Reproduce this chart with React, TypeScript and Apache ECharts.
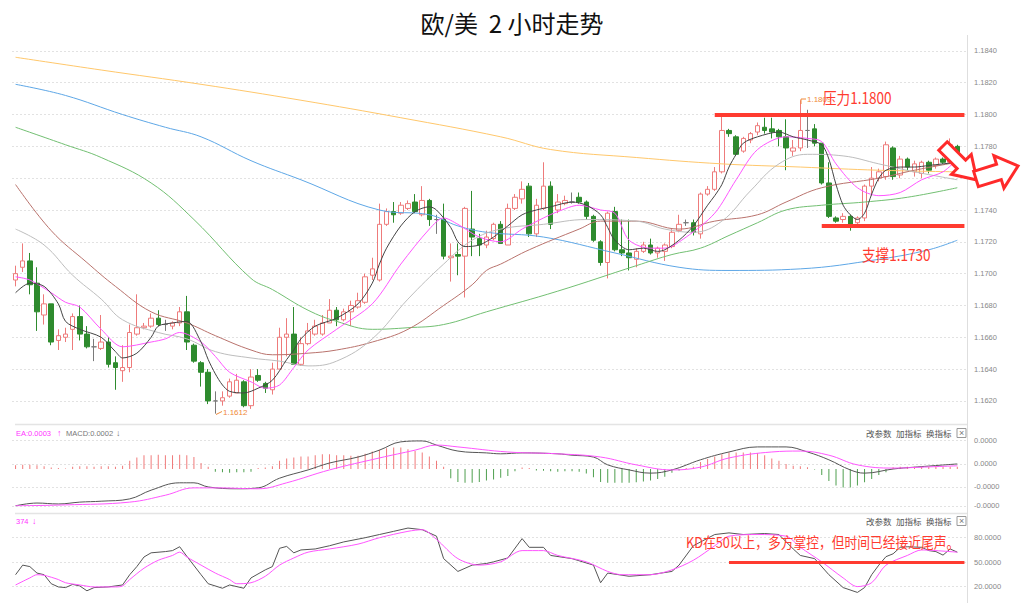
import React, { useEffect, useRef } from "react";
import * as echarts from "echarts";

// ---------- DATA ----------
const categories: string[] = Array.from({ length: 134 }, (_, i) => String(i));

// [open, close, low, high]
const candles: number[][] = [
  [1.1696, 1.17, 1.1692, 1.1705], [1.1704, 1.1708, 1.1701, 1.1719], [1.1708, 1.1693, 1.1687, 1.1713],
  [1.1694, 1.1676, 1.1664, 1.1704], [1.1674, 1.1681, 1.1668, 1.1687], [1.1681, 1.1657, 1.1655, 1.1681],
  [1.1658, 1.1661, 1.1652, 1.1665], [1.166, 1.1662, 1.1657, 1.1666], [1.1665, 1.1673, 1.1652, 1.1675],
  [1.1673, 1.1662, 1.1658, 1.168], [1.1662, 1.1654, 1.1653, 1.1667], [1.1654, 1.1654, 1.1645, 1.1659],
  [1.1653, 1.1657, 1.1652, 1.1674], [1.1657, 1.1643, 1.1641, 1.166], [1.1644, 1.1641, 1.1627, 1.1648],
  [1.1639, 1.1641, 1.1632, 1.1655], [1.1641, 1.1663, 1.1638, 1.1668], [1.1662, 1.1666, 1.1661, 1.1687],
  [1.1666, 1.1667, 1.1665, 1.1669], [1.1667, 1.1672, 1.1666, 1.1675], [1.1672, 1.1668, 1.1667, 1.1677],
  [1.1668, 1.1668, 1.1664, 1.1671], [1.1667, 1.1669, 1.1665, 1.167], [1.1669, 1.1676, 1.1667, 1.1679],
  [1.1676, 1.1657, 1.1652, 1.1686], [1.1655, 1.1645, 1.1644, 1.1656], [1.1644, 1.1638, 1.1629, 1.1645],
  [1.1638, 1.162, 1.1618, 1.164], [1.162, 1.162, 1.1612, 1.1626], [1.162, 1.1622, 1.1617, 1.1626],
  [1.1623, 1.1632, 1.1622, 1.1634], [1.1625, 1.1633, 1.1625, 1.1637], [1.1632, 1.1617, 1.1616, 1.1633],
  [1.1617, 1.1635, 1.1615, 1.164], [1.1636, 1.1633, 1.1632, 1.164], [1.1631, 1.1628, 1.1625, 1.1632],
  [1.1627, 1.164, 1.1624, 1.1644], [1.164, 1.166, 1.164, 1.1666], [1.166, 1.1662, 1.1648, 1.1672],
  [1.1662, 1.1643, 1.1643, 1.1679], [1.1643, 1.1656, 1.1642, 1.166], [1.1656, 1.1664, 1.1655, 1.1669],
  [1.1662, 1.1667, 1.1661, 1.1671], [1.1662, 1.1669, 1.1661, 1.1674], [1.1669, 1.1677, 1.1669, 1.1684],
  [1.1677, 1.1671, 1.1667, 1.1679], [1.1671, 1.1676, 1.167, 1.1678], [1.1676, 1.168, 1.1667, 1.1683],
  [1.1679, 1.1683, 1.1678, 1.1688], [1.1682, 1.1698, 1.1681, 1.17], [1.1699, 1.1703, 1.1696, 1.171],
  [1.1696, 1.1731, 1.1695, 1.1744], [1.1731, 1.1739, 1.173, 1.1741], [1.1739, 1.1737, 1.1732, 1.1745],
  [1.1738, 1.1743, 1.1737, 1.1745], [1.1741, 1.1744, 1.174, 1.1746], [1.1745, 1.1739, 1.1738, 1.175],
  [1.1737, 1.1746, 1.1736, 1.1755], [1.1746, 1.1734, 1.173, 1.1747], [1.1734, 1.1734, 1.1725, 1.1737],
  [1.1734, 1.1711, 1.1709, 1.1744], [1.171, 1.1711, 1.1695, 1.1719], [1.1712, 1.1711, 1.1699, 1.1719],
  [1.1711, 1.1741, 1.1685, 1.1742], [1.1728, 1.1723, 1.1711, 1.1752], [1.1722, 1.1718, 1.1711, 1.1725],
  [1.1718, 1.1723, 1.1716, 1.1727], [1.1722, 1.1731, 1.1721, 1.1732], [1.1731, 1.1719, 1.1719, 1.1733],
  [1.1718, 1.1741, 1.1718, 1.1744], [1.1741, 1.1748, 1.174, 1.175], [1.1747, 1.1753, 1.1744, 1.1758],
  [1.1755, 1.1725, 1.1723, 1.1757], [1.1725, 1.1743, 1.1723, 1.1747], [1.1741, 1.1755, 1.174, 1.177],
  [1.1755, 1.1731, 1.1728, 1.1758], [1.174, 1.1745, 1.1738, 1.175], [1.1744, 1.1746, 1.1743, 1.1749],
  [1.1745, 1.1745, 1.1744, 1.1751], [1.1748, 1.1745, 1.1744, 1.1751], [1.1745, 1.1736, 1.1734, 1.1746],
  [1.1736, 1.1721, 1.172, 1.1737], [1.172, 1.1707, 1.1705, 1.1721], [1.1707, 1.1738, 1.1697, 1.1739],
  [1.1739, 1.1715, 1.1714, 1.1742], [1.1715, 1.1713, 1.1711, 1.1734], [1.1713, 1.171, 1.1702, 1.1734],
  [1.1709, 1.1714, 1.1704, 1.1716], [1.1714, 1.1718, 1.1713, 1.172], [1.1718, 1.1713, 1.1712, 1.1722],
  [1.1713, 1.1716, 1.171, 1.1717], [1.1714, 1.1718, 1.1708, 1.1719], [1.1717, 1.1726, 1.1716, 1.1728],
  [1.1727, 1.1731, 1.1726, 1.1737], [1.1732, 1.1732, 1.173, 1.1734], [1.1732, 1.1726, 1.1724, 1.1734],
  [1.1725, 1.175, 1.1722, 1.1751], [1.175, 1.1753, 1.1749, 1.1755], [1.1753, 1.1764, 1.1752, 1.1767],
  [1.1764, 1.179, 1.1763, 1.18], [1.179, 1.1788, 1.1786, 1.1791], [1.1786, 1.1775, 1.1774, 1.1787],
  [1.1777, 1.1785, 1.1776, 1.1786], [1.1784, 1.1788, 1.1782, 1.1789], [1.1789, 1.1793, 1.1787, 1.1795],
  [1.1792, 1.179, 1.1788, 1.1798], [1.1791, 1.1789, 1.1785, 1.1798], [1.179, 1.1786, 1.178, 1.1791],
  [1.1786, 1.1779, 1.1765, 1.1797], [1.1777, 1.1779, 1.1774, 1.1784], [1.1779, 1.179, 1.1777, 1.1809],
  [1.179, 1.179, 1.1779, 1.1803], [1.1791, 1.1782, 1.178, 1.1794], [1.1782, 1.1757, 1.1756, 1.1782],
  [1.1757, 1.1736, 1.1735, 1.177], [1.1735, 1.1733, 1.1732, 1.1736], [1.1734, 1.1736, 1.1732, 1.1738],
  [1.1736, 1.1731, 1.1727, 1.1737], [1.1732, 1.1735, 1.1729, 1.1736], [1.1735, 1.1755, 1.1733, 1.1756],
  [1.1755, 1.176, 1.1749, 1.1767], [1.176, 1.1764, 1.1758, 1.1766], [1.1761, 1.1781, 1.1759, 1.1783],
  [1.1779, 1.1761, 1.1759, 1.178], [1.1762, 1.1772, 1.176, 1.1774], [1.1772, 1.1767, 1.1765, 1.1773],
  [1.1764, 1.1769, 1.1761, 1.1771], [1.1763, 1.177, 1.176, 1.1771], [1.177, 1.1765, 1.1763, 1.1771],
  [1.1768, 1.1772, 1.1766, 1.1773], [1.1772, 1.177, 1.1769, 1.1773], [1.177, 1.1781, 1.1769, 1.1785],
  [1.178, 1.177, 1.1769, 1.1781],
];

// moving averages: [candle index, price]
const ma5: number[][] = [
  [0, 1.1688], [2, 1.1694], [4, 1.1692], [6, 1.1681], [7, 1.167], [9, 1.1665], [12, 1.166], [14, 1.1651],
  [15, 1.1647], [17, 1.165], [19, 1.166], [20, 1.1667], [22, 1.1669], [24, 1.167], [26, 1.1657], [27, 1.1646],
  [28, 1.1637], [29, 1.163], [30, 1.1626], [32, 1.1625], [34, 1.1628], [36, 1.1633], [38, 1.1646], [39, 1.1652],
  [40, 1.1659], [42, 1.1667], [45, 1.1672], [48, 1.1681], [50, 1.1694], [51, 1.1706], [52, 1.1716], [54, 1.173],
  [56, 1.1739], [58, 1.1742], [59, 1.174], [61, 1.1729], [62, 1.172], [63, 1.1717], [65, 1.1718], [67, 1.1723],
  [69, 1.173], [71, 1.1737], [73, 1.174], [75, 1.1742], [78, 1.1745], [80, 1.1743], [82, 1.1737], [83, 1.1729],
  [84, 1.1721], [86, 1.1715], [88, 1.1716], [90, 1.1714], [91, 1.1715], [93, 1.1721], [95, 1.173], [97, 1.1743],
  [98, 1.1749], [99, 1.1756], [100, 1.1767], [101, 1.1775], [102, 1.1782], [104, 1.1786], [107, 1.1789],
  [109, 1.1786], [111, 1.1784], [113, 1.1781], [114, 1.1772], [115, 1.1756], [116, 1.1743], [117, 1.1737],
  [118, 1.1734], [119, 1.1738], [120, 1.175], [121, 1.176], [122, 1.1765], [124, 1.1767], [126, 1.1767],
  [128, 1.1768], [130, 1.1769], [132, 1.177],
];
const ma10: number[][] = [
  [0, 1.1698], [2, 1.1696], [5, 1.1688], [7, 1.1682], [9, 1.1679], [12, 1.1665], [15, 1.1654], [19, 1.1657],
  [21, 1.1659], [23, 1.1663], [26, 1.1657], [28, 1.1648], [30, 1.1638], [33, 1.1632], [35, 1.1628], [37, 1.163],
  [39, 1.1641], [41, 1.1652], [45, 1.1665], [50, 1.1681], [54, 1.1706], [58, 1.1728], [60, 1.1735], [62, 1.1731],
  [65, 1.1723], [68, 1.172], [71, 1.1728], [74, 1.1735], [76, 1.1739], [79, 1.1743], [82, 1.174], [84, 1.1738],
  [86, 1.1721], [89, 1.1716], [91, 1.1716], [94, 1.1723], [98, 1.1738], [101, 1.1759], [104, 1.1778],
  [108, 1.1786], [111, 1.1785], [113, 1.1783], [115, 1.1769], [118, 1.1754], [121, 1.1749], [124, 1.1751],
  [127, 1.1759], [130, 1.1764], [132, 1.1772],
];
const ma20: number[][] = [
  [0, 1.1728], [4, 1.1718], [8, 1.1699], [12, 1.1684], [15, 1.1671], [20, 1.1663], [24, 1.1659], [28, 1.1651],
  [33, 1.1647], [37, 1.1645], [41, 1.1642], [45, 1.1645], [50, 1.1659], [55, 1.1684], [60, 1.1706], [64, 1.1721],
  [68, 1.1728], [74, 1.1731], [80, 1.1734], [87, 1.1733], [91, 1.1728], [95, 1.1726], [99, 1.1733], [103, 1.1752],
  [107, 1.1769], [111, 1.1775], [116, 1.1774], [121, 1.1769], [126, 1.1764], [132, 1.1759],
];
const ma30: number[][] = [
  [0, 1.1756], [5, 1.1727], [10, 1.1707], [14, 1.1692], [19, 1.1676], [24, 1.1669], [28, 1.1661], [33, 1.1652],
  [36, 1.1649], [41, 1.165], [45, 1.1652], [50, 1.1657], [55, 1.1665], [60, 1.168], [64, 1.1693], [66, 1.1702],
  [68, 1.1706], [72, 1.1715], [79, 1.1728], [82, 1.1733], [87, 1.1733], [93, 1.1728], [98, 1.1733], [104, 1.1737],
  [108, 1.1745], [113, 1.1754], [121, 1.176], [126, 1.1765], [132, 1.177],
];
const ma60: number[][] = [
  [0, 1.1792], [7, 1.1781], [12, 1.1773], [19, 1.1757], [25, 1.1734], [33, 1.1697], [36, 1.169], [41, 1.1677],
  [45, 1.167], [50, 1.1665], [55, 1.1666], [60, 1.1668], [66, 1.1676], [76, 1.1689], [87, 1.1705], [92, 1.1712],
  [96, 1.1716], [100, 1.1724], [104, 1.1732], [108, 1.174], [113, 1.1743], [119, 1.1745], [125, 1.1748],
  [132, 1.1754],
];
const ma120: number[][] = [
  [0, 1.1819], [7, 1.1812], [15, 1.18], [21, 1.1792], [26, 1.1786], [33, 1.1771], [40, 1.1759], [51, 1.174],
  [58, 1.1737], [62, 1.173], [66, 1.1726], [74, 1.1723], [84, 1.1713], [93, 1.1704], [100, 1.1702], [110, 1.1703],
  [121, 1.1709], [128, 1.1715], [132, 1.1721],
];
const ma250: number[][] = [
  [0, 1.1836], [12, 1.1828], [26, 1.1819], [40, 1.1809], [54, 1.1798], [68, 1.1786], [75, 1.1778], [87, 1.1773],
  [99, 1.1769], [110, 1.1767], [121, 1.1765], [132, 1.1764],
];

// MACD (units of 0.0001)
const macdHist: number[] = [
  0.8, 0.9, 0.9, 0.8, 0.6, 0.3, 0.2, 0.1, 0.5, 0.6, 0.6, 0.5, 0.6, 0.6, 0.5, 0.7,
  1.8, 2.5, 3.0, 3.0, 3.1, 3.0, 3.0, 3.1, 3.0, 2.6, 1.3, 0.5,
  -0.6, -0.7, -0.8, -0.7, -0.7, -0.6, 0.2, 0.3, 0.6,
  1.8, 2.3, 2.5, 2.7, 2.7, 3.0, 3.2, 3.2, 3.0, 3.0, 2.9, 2.9, 3.3, 3.8, 4.2, 4.5, 4.7, 4.7, 4.3, 3.9, 3.6, 2.7, 1.8, 0.5,
  -2.0, -2.8, -3.0, -3.0, -2.8, -2.5, -2.3, -1.9, -1.5, -0.5,
  0.3, 0.2, -0.3, -0.4, -0.5, -0.6, -0.5, -0.5, -0.6,
  -1.0, -1.8, -2.8, -3.0, -3.0, -3.0, -3.0, -2.9, -2.7, -2.5, -2.2, -1.7, -0.8, -0.3,
  0.2, 0.5, 1.5, 2.2, 2.7, 3.2, 3.6, 3.6, 3.6, 3.6, 3.5, 3.0, 2.3, 1.8, 1.1, 0.7, 0.6, 0.4, -0.1,
  -1.3, -2.6, -3.6, -4.0, -4.0, -3.6, -2.9, -2.2, -1.3, -0.7,
  0.4, 0.5, 0.5, 0.5, 0.5, 0.5, 0.6, 0.5, 0.5, 0.5,
];
const macdDiff: number[][] = [
  [0, -8.0], [3, -7.4], [6, -7.6], [9, -7.2], [12, -7.0], [16, -6.5], [19, -4.6], [23, -3.0], [25, -3.0],
  [27, -3.9], [31, -4.3], [34, -4.1], [37, -2.0], [41, -0.2], [44, 1.3], [48, 2.6], [51, 4.1], [54, 5.9],
  [57, 6.1], [59, 5.2], [62, 3.9], [66, 3.5], [68, 3.3], [71, 3.5], [76, 3.3], [78, 3.0], [81, 2.6], [83, 0.9],
  [86, -0.2], [89, -0.9], [92, -0.2], [96, 2.0], [100, 3.7], [104, 4.8], [108, 4.8], [111, 3.7], [114, 2.0],
  [117, -0.2], [119, -0.9], [123, 0.0], [126, 0.4], [132, 1.1],
];
const macdDea: number[][] = [
  [0, -8.0], [7, -7.8], [16, -7.2], [21, -5.7], [25, -4.1], [28, -4.1], [34, -4.3], [38, -3.0], [44, -0.2],
  [51, 2.4], [56, 4.1], [59, 5.2], [62, 4.8], [69, 3.7], [76, 3.3], [82, 2.6], [87, 0.9], [92, -0.2], [96, 0.4],
  [100, 2.4], [106, 3.7], [110, 3.9], [114, 3.0], [118, 0.9], [123, 0.2], [127, 0.4], [132, 0.7],
];

// KD
const kLine: number[][] = [
  [0, 34.5], [1, 46.2], [2, 44.4], [3, 36.5], [4, 34.5], [5, 23.5], [6, 19.6], [7, 18.8], [8, 22.7], [9, 20.8],
  [10, 14.9], [11, 18.8], [13, 19.6], [15, 22], [16, 34.5], [17, 44.4], [18, 56.1], [19, 61.2], [21, 62.7],
  [22, 63.9], [23, 68.6], [24, 57], [26, 34.5], [27, 23.5], [29, 18], [30, 22], [32, 18], [33, 30.6], [35, 40.4],
  [36, 44.4], [37, 66.7], [38, 69], [39, 61.2], [40, 64.7], [42, 65.9], [44, 69.8], [46, 74.5], [49, 79.6],
  [51, 83.5], [53, 87.4], [55, 91.4], [57, 89.4], [59, 81.5], [60, 54.1], [62, 38.5], [64, 46.2], [66, 48.2],
  [67, 50.2], [69, 54.9], [71, 78.5], [72, 67.9], [74, 67.9], [75, 58], [78, 54.1], [81, 46.2], [82, 24.7],
  [83, 36.5], [86, 32.6], [89, 34.5], [92, 38.5], [93, 46.2], [95, 69.8], [98, 83.5], [100, 85.5], [102, 83.5],
  [105, 84.7], [107, 83.5], [109, 65.9], [110, 58], [112, 54.1], [114, 34.5], [116, 18.8], [118, 12.9],
  [119, 18.8], [120, 34.5], [121, 46.2], [122, 56.5], [123, 60], [124, 67.9], [125, 68.6], [127, 67.9],
  [128, 63.9], [129, 62.7], [130, 58.4], [131, 65.9], [132, 62],
];
const dLine: number[][] = [
  [0, 22], [2, 30.6], [3, 34.5], [4, 33.8], [6, 28.6], [7, 24.7], [9, 22], [11, 19.6], [14, 19.6], [15, 20.8],
  [16, 28.6], [18, 42.4], [20, 52.1], [22, 58], [23, 62], [24, 56.1], [26, 46.2], [28, 36.5], [30, 28.6],
  [31, 23.5], [33, 24.7], [35, 32.6], [37, 46.2], [39, 54.9], [41, 62], [44, 65.9], [48, 71.8], [51, 79.6],
  [55, 87.4], [57, 89.4], [59, 77.6], [62, 54.1], [65, 46.2], [68, 50.2], [71, 63.9], [74, 63.9], [76, 58],
  [80, 50.2], [83, 38.5], [85, 34.5], [89, 34.5], [92, 40.4], [95, 52.1], [98, 69.8], [100, 81.5], [104, 83.5],
  [108, 81.5], [110, 67.9], [113, 50.2], [116, 30.6], [118, 20], [120, 24.7], [122, 46.2], [125, 58],
  [127, 64.7], [129, 63.9], [132, 62],
];

// tick labels
const priceTicks: number[] = [1.162, 1.164, 1.166, 1.168, 1.17, 1.172, 1.174, 1.176, 1.178, 1.18, 1.182, 1.184];
const macdTicks: number[] = [6.3, 1.09, -3.91, -8.0];
const kdTicks: number[] = [20, 50, 80];

// annotations
const resistance = 1.18;
const support = 1.173;
const kdLevel = 50;

// ---------- STYLE ----------
const CJK = '"Noto Sans CJK SC", "Noto Sans", sans-serif';
const LAB = '"Liberation Sans", Arial, sans-serif';
const RED = "#ff3b30";
const ORANGE = "#f08a3a";

const txt = (text: string, x: number, y: number, fill: string, fontSize: number, extra: any = {}) => ({
  type: "text",
  x,
  y,
  silent: true,
  z: 100,
  ...extra,
  style: {
    text,
    fill,
    fontSize,
    fontFamily: extra.fontFamily || CJK,
    align: extra.align || "left",
    verticalAlign: "middle",
    textAlign: extra.align || "left",
    textVerticalAlign: "middle",
  },
});

const hline = (x1: number, x2: number, y: number, stroke: string, lineWidth = 1) => ({
  type: "line",
  silent: true,
  shape: { x1, y1: y, x2, y2: y },
  style: { stroke, lineWidth },
});

const arrowShape = (body: number, bodyLen: number, head: number, len: number) => [
  [0, -body], [bodyLen, -body], [bodyLen, -head], [len, 0], [bodyLen, head], [bodyLen, body], [0, body],
];

const maLine = (name: string, data: number[][], color: string, smooth: number | boolean = 0.4) => ({
  name,
  type: "line",
  xAxisIndex: 0,
  yAxisIndex: 0,
  data,
  smooth,
  symbol: "none",
  lineStyle: { color, width: 1 },
  silent: true,
  z: 3,
});

function buildOption(): any {
  const headerRight = (y: number) => [
    txt("改参数", 866, y, "#555", 8.5),
    txt("加指标", 896, y, "#555", 8.5),
    txt("换指标", 926, y, "#555", 8.5),
    { type: "rect", silent: true, shape: { x: 957, y: y - 4.5, width: 9, height: 9 }, style: { fill: "#fff", stroke: "#999", lineWidth: 1 } },
    txt("×", 961.5, y, "#777", 9, { align: "center", fontFamily: LAB }),
  ];

  return {
    animation: false,
    backgroundColor: "#ffffff",
    textStyle: { fontFamily: LAB },
    grid: [
      { left: 12, right: 56, top: 35, height: 385 },
      { left: 12, right: 56, top: 440, height: 66 },
      { left: 12, right: 56, top: 521, height: 85 },
    ],
    xAxis: [0, 1, 2].map((g) => ({
      type: "category",
      gridIndex: g,
      data: categories,
      boundaryGap: true,
      show: false,
    })),
    yAxis: [
      {
        type: "value",
        gridIndex: 0,
        position: "right",
        min: 1.1608,
        max: 1.185,
        axisLine: { show: false },
        axisTick: { show: false, customValues: priceTicks },
        axisLabel: { customValues: priceTicks, formatter: (v: number) => v.toFixed(4), color: "#888", fontSize: 7.5, margin: 6, fontFamily: LAB },
        splitLine: { show: true, lineStyle: { color: "#e2e2e2", type: [2, 2] } },
      },
      {
        type: "value",
        gridIndex: 1,
        position: "right",
        min: -8.043,
        max: 6.304,
        axisLine: { show: false },
        axisTick: { show: false, customValues: macdTicks },
        axisLabel: { customValues: macdTicks, formatter: (v: number) => (v >= 0 ? "0.0000" : "-0.0000"), color: "#888", fontSize: 7.5, margin: 6, fontFamily: LAB },
        splitLine: { show: true, lineStyle: { color: "#e2e2e2", type: [2, 2] } },
      },
      {
        type: "value",
        gridIndex: 2,
        position: "right",
        min: 0,
        max: 100,
        axisLine: { show: false },
        axisTick: { show: false, customValues: kdTicks },
        axisLabel: { customValues: kdTicks, formatter: (v: number) => v.toFixed(4), color: "#888", fontSize: 7.5, margin: 6, fontFamily: LAB },
        splitLine: { show: true, lineStyle: { color: "#e2e2e2", type: [2, 2] } },
      },
    ],
    series: [
      {
        name: "K",
        type: "candlestick",
        xAxisIndex: 0,
        yAxisIndex: 0,
        data: candles,
        barWidth: 5,
        silent: true,
        itemStyle: {
          color: "#ffffff",
          color0: "#2e8b2e",
          borderColor: "#ee7b7b",
          borderColor0: "#2e8b2e",
          borderColorDoji: "#7a7a7a",
          borderWidth: 1,
        },
        markLine: {
          silent: true,
          symbol: ["none", "none"],
          label: { show: false },
          lineStyle: { color: RED, width: 4, type: "solid" },
          data: [
            [{ coord: [98, resistance] }, { coord: [133, resistance] }],
            [{ coord: [113, support] }, { coord: [133, support] }],
          ],
        },
      },
      maLine("MA250", ma250, "#ffc76b"),
      maLine("MA120", ma120, "#5ea7e6"),
      maLine("MA60", ma60, "#72bf72"),
      maLine("MA30", ma30, "#b9736d"),
      maLine("MA20", ma20, "#bdbdbd"),
      maLine("MA10", ma10, "#ff55ff", 0.3),
      maLine("MA5", ma5, "#444444", 0.3),
      {
        name: "MACD",
        type: "bar",
        xAxisIndex: 1,
        yAxisIndex: 1,
        data: macdHist,
        barWidth: 1,
        silent: true,
        itemStyle: { color: (p: any) => (p.value >= 0 ? "#f07a7a" : "#4f9f4f") },
      },
      {
        name: "DIFF", type: "line", xAxisIndex: 1, yAxisIndex: 1, data: macdDiff, smooth: 0.4, symbol: "none",
        lineStyle: { color: "#555", width: 1 }, silent: true,
      },
      {
        name: "DEA", type: "line", xAxisIndex: 1, yAxisIndex: 1, data: macdDea, smooth: 0.4, symbol: "none",
        lineStyle: { color: "#ff55ff", width: 1 }, silent: true,
      },
      {
        name: "KDJ-K", type: "line", xAxisIndex: 2, yAxisIndex: 2, data: kLine, symbol: "none",
        lineStyle: { color: "#555", width: 1 }, silent: true,
      },
      {
        name: "KDJ-D", type: "line", xAxisIndex: 2, yAxisIndex: 2, data: dLine, smooth: 0.3, symbol: "none",
        lineStyle: { color: "#ff55ff", width: 1 }, silent: true,
        markLine: {
          silent: true,
          symbol: ["none", "none"],
          label: { show: false },
          lineStyle: { color: RED, width: 3, type: "solid" },
          data: [[{ coord: [100, kdLevel] }, { coord: [133, kdLevel] }]],
        },
      },
    ],
    graphic: {
      elements: [
        txt("欧/美  2 小时走势", 512, 22, "#111", 24, { align: "center" }),
        { type: "line", silent: true, shape: { x1: 967.5, y1: 35, x2: 967.5, y2: 603 }, style: { stroke: "#dedede", lineWidth: 1 } },
        hline(15, 967, 424.5, "#e4e4e4", 1.5),
        hline(15, 967, 513.5, "#e4e4e4", 1.5),
        // MACD header
        txt("EA:0.0003", 16, 433, "#ff33ff", 7.5, { fontFamily: LAB }),
        txt("↑", 57, 433, "#ff33ff", 9, { fontFamily: LAB }),
        txt("MACD:0.0002", 66, 433, "#777", 7.5, { fontFamily: LAB }),
        txt("↓", 116, 433, "#777", 9, { fontFamily: LAB }),
        ...headerRight(433),
        // KD header
        txt("374", 16, 521, "#ff33ff", 7.5, { fontFamily: LAB }),
        txt("↓", 32, 521, "#ff33ff", 9, { fontFamily: LAB }),
        ...headerRight(521),
        // min / max markers
        { type: "polyline", silent: true, z: 100, shape: { points: [[216, 414.5], [222, 411.5]] }, style: { stroke: ORANGE, lineWidth: 1, fill: "none" } },
        txt("1.1612", 223, 412, ORANGE, 8, { fontFamily: LAB }),
        { type: "polyline", silent: true, z: 100, shape: { points: [[801, 104], [801, 99], [806, 99]] }, style: { stroke: ORANGE, lineWidth: 1, fill: "none" } },
        txt("1.1809", 807, 99, ORANGE, 8, { fontFamily: LAB }),
        // annotations
        txt("压力1.1800", 823, 97, RED, 16, { scaleX: 0.85 }),
        txt("支撑1.1730", 862, 254, RED, 16, { scaleX: 0.85 }),
        txt("KD在50以上，多方掌控，但时间已经接近尾声。", 686, 541.5, RED, 15, { scaleX: 0.85 }),
        {
          type: "polygon", silent: true, z: 110, x: 943, y: 146, rotation: -Math.PI / 4,
          shape: { points: arrowShape(6, 26, 14, 48) },
          style: { fill: "#ffffff", stroke: "#ff2a2a", lineWidth: 3, lineJoin: "miter" },
        },
        {
          type: "polygon", silent: true, z: 111, x: 976, y: 179, rotation: 0.3,
          shape: { points: arrowShape(8, 24, 17, 44) },
          style: { fill: "#ffffff", stroke: "#ff2a2a", lineWidth: 3, lineJoin: "miter" },
        },
      ],
    },
  };
}

export default function App() {
  const ref = useRef<HTMLDivElement>(null);
  useEffect(() => {
    if (!ref.current) return;
    const chart = echarts.init(ref.current, null, { renderer: "svg" });
    chart.setOption(buildOption());
    return () => chart.dispose();
  }, []);
  return <div ref={ref} style={{ position: "absolute", left: 0, top: 0, width: 1024, height: 603, background: "#fff" }} />;
}
